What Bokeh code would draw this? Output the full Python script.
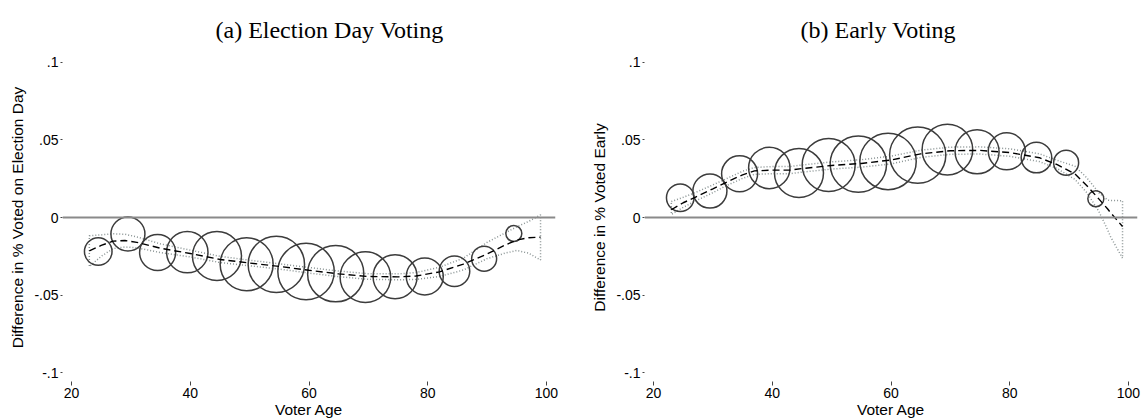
from bokeh.plotting import figure
from bokeh.models import FixedTicker, Span, Title, Range1d, CustomJSTickFormatter
from bokeh.layouts import row
from bokeh.embed import file_html
from bokeh.resources import INLINE
import numpy as np

# ---- data -------------------------------------------------------------
bin_age = [24.5, 29.5, 34.5, 39.5, 44.5, 49.5, 54.5, 59.5, 64.5, 69.5, 74.5, 79.5, 84.5, 89.5, 94.5]
voters_k = [19.0, 28.9, 32.4, 42.8, 60.0, 70.2, 79.5, 79.5, 79.0, 64.0, 48.4, 34.2, 23.4, 15.6, 6.4]

eday_diff = [-0.0219, -0.0106, -0.0225, -0.0223, -0.0248, -0.0301, -0.0302, -0.0348,
             -0.0362, -0.0384, -0.0381, -0.0380, -0.0346, -0.0265, -0.0103]
early_diff = [0.0127, 0.0170, 0.0281, 0.0319, 0.0287, 0.0338, 0.0344, 0.0361,
              0.0402, 0.0437, 0.0423, 0.0426, 0.0386, 0.0353, 0.0121]

fit_age_e = [23, 25, 27, 29, 31, 35, 40, 45, 50, 55, 60, 65, 70, 75, 78, 82, 86, 90, 93, 95, 97, 99]
eday_fit = [-0.0215, -0.0180, -0.0152, -0.0148, -0.0160, -0.0198, -0.0232, -0.0270, -0.0293, -0.0315,
            -0.0340, -0.0363, -0.0380, -0.0382, -0.0377, -0.0350, -0.0300, -0.0235, -0.0178, -0.0145,
            -0.0130, -0.0127]
eday_hi = [-0.0118, -0.0112, -0.0105, -0.0108, -0.0125, -0.0170, -0.0210, -0.0250, -0.0275, -0.0298,
           -0.0322, -0.0345, -0.0362, -0.0363, -0.0355, -0.0320, -0.0262, -0.0160, -0.0100, -0.0060,
           -0.0025, 0.0017]
eday_lo = [-0.0316, -0.0250, -0.0200, -0.0190, -0.0195, -0.0226, -0.0254, -0.0290, -0.0311, -0.0332,
           -0.0358, -0.0381, -0.0398, -0.0401, -0.0399, -0.0380, -0.0338, -0.0265, -0.0230, -0.0212,
           -0.0230, -0.0273]

fit_age_a = [23, 25, 27, 30, 32, 35, 37, 40, 43, 45, 50, 55, 60, 65, 70, 75, 80, 85, 88, 91, 93, 95, 96.5, 97, 99]
early_fit = [0.0050, 0.0095, 0.0130, 0.0185, 0.0222, 0.0275, 0.0300, 0.0305, 0.0305, 0.0315, 0.0335,
             0.0348, 0.0370, 0.0410, 0.0430, 0.0432, 0.0418, 0.0385, 0.0340, 0.0280, 0.0205, 0.0120,
             0.0055, 0.0030, -0.0058]
early_hi = [0.0103, 0.0130, 0.0160, 0.0210, 0.0245, 0.0298, 0.0322, 0.0328, 0.0328, 0.0338, 0.0358,
            0.0372, 0.0395, 0.0433, 0.0453, 0.0455, 0.0442, 0.0410, 0.0368, 0.0330, 0.0255, 0.0160,
            0.0112, 0.0110, 0.0108]
early_lo = [0.0020, 0.0065, 0.0105, 0.0160, 0.0200, 0.0252, 0.0278, 0.0282, 0.0282, 0.0292, 0.0312,
            0.0324, 0.0345, 0.0387, 0.0407, 0.0409, 0.0394, 0.0360, 0.0315, 0.0245, 0.0160, 0.0040,
            -0.0080, -0.0125, -0.0262]

titles = ["(a) Election Day Voting", "(b) Early Voting"]
ylabels = ["Difference in % Voted on Election Day", "Difference in % Voted Early"]
x_ticks = [20, 40, 60, 80, 100]
y_ticks = [-0.1, -0.05, 0, 0.05, 0.1]

SANS = "Liberation Sans"
SERIF = "Liberation Serif"


def panel(title, ylabel, vals, fa, fit, hi, lo, width, bl, br, title_offset):
    p = figure(width=width, height=420,
               x_range=Range1d(18.48, 101.52), y_range=Range1d(-0.1056, 0.1056),
               output_backend="svg", toolbar_location=None,
               min_border_left=bl, min_border_right=br, min_border_top=53, min_border_bottom=39)
    p.title = Title(text=title, align="left", offset=title_offset,
                    text_font=SERIF, text_font_size="24px", text_font_style="normal",
                    text_color="black", standoff=22)
    p.outline_line_color = None
    p.grid.visible = False
    p.background_fill_color = "white"
    p.border_fill_color = "white"

    p.add_layout(Span(location=0, dimension="width", line_color="#8a8a8a", line_width=2))

    # CI band outline (dotted)
    px = list(fa) + list(fa)[::-1]
    py = list(hi) + list(lo)[::-1]
    p.patch(px, py, fill_alpha=0, line_color="#8a9494", line_width=1.5, line_dash="1 2")

    sizes = [2 * 28.2 * np.sqrt(w / max(voters_k)) for w in voters_k]
    p.scatter(bin_age, vals, size=sizes, marker="circle", fill_alpha=0,
              line_color="#3c3c3c", line_width=1.5)

    p.line(fa, fit, line_color="black", line_width=1.4, line_dash="7 4")

    xa = p.xaxis[0]
    xa.ticker = FixedTicker(ticks=x_ticks)
    xa.axis_line_color = None
    xa.major_tick_out = 4
    xa.major_tick_in = 0
    xa.minor_tick_out = 0
    xa.minor_tick_in = 0
    xa.major_tick_line_color = "#444444"
    xa.major_label_standoff = 2
    xa.major_label_text_font = SANS
    xa.major_label_text_font_size = "14px"
    xa.major_label_text_color = "black"
    xa.axis_label = "Voter Age"
    xa.axis_label_text_font = SANS
    xa.axis_label_text_font_size = "15.5px"
    xa.axis_label_text_font_style = "normal"
    xa.axis_label_text_color = "black"
    xa.axis_label_standoff = 0

    ya = p.yaxis[0]
    ya.ticker = FixedTicker(ticks=y_ticks)
    ya.formatter = CustomJSTickFormatter(code="""
        if (Math.abs(tick) < 1e-9) return "0";
        const s = String(Math.round(tick * 100) / 100);
        return s.replace("0.", ".");
    """)
    ya.axis_line_color = None
    ya.major_tick_out = 2
    ya.major_tick_in = 0
    ya.minor_tick_out = 0
    ya.minor_tick_in = 0
    ya.major_tick_line_color = "#444444"
    ya.major_label_standoff = 2
    ya.major_label_text_font = SANS
    ya.major_label_text_font_size = "14px"
    ya.major_label_text_color = "black"
    ya.axis_label = ylabel
    ya.axis_label_text_font = SANS
    ya.axis_label_text_font_size = "15.5px"
    ya.axis_label_text_font_style = "normal"
    ya.axis_label_text_color = "black"
    ya.axis_label_standoff = 5
    return p


p1 = panel(titles[0], ylabels[0], eday_diff, fit_age_e, eday_fit, eday_hi, eday_lo, 571, 62, 16, 153)
p2 = panel(titles[1], ylabels[1], early_diff, fit_age_a, early_fit, early_hi, early_lo, 572, 73, 6, 156)

layout = row(p1, p2)
open("out.html", "w").write(file_html(layout, INLINE))
